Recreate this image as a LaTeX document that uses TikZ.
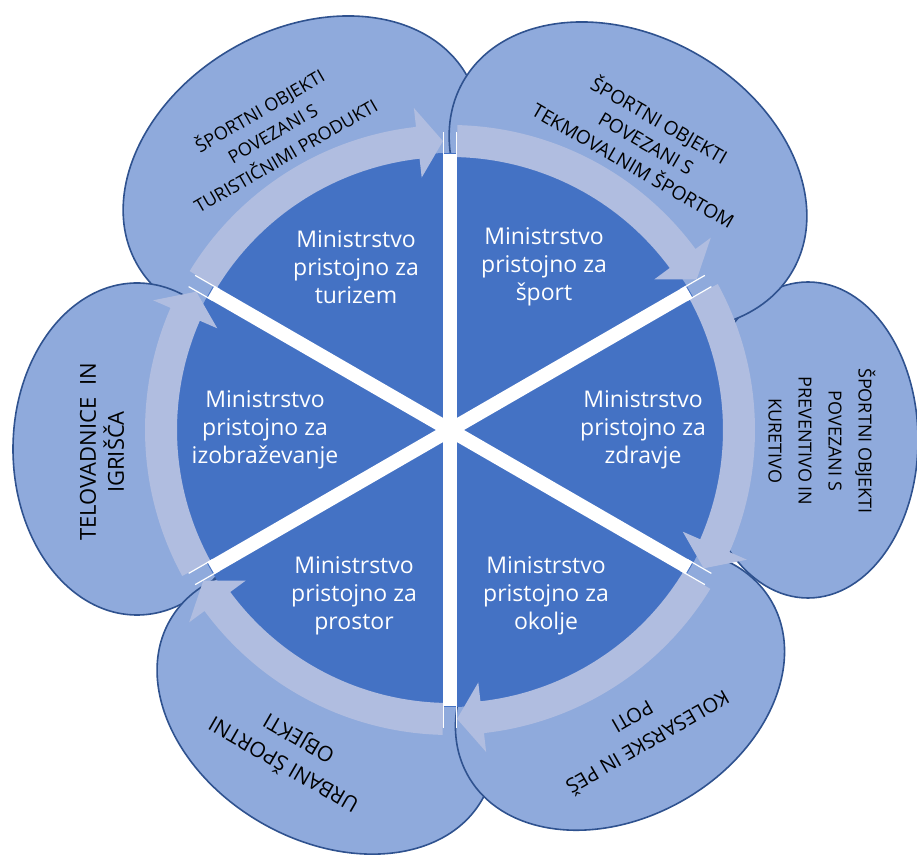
\documentclass[tikz,border=0pt]{standalone}
\usepackage{fontspec}
\setmainfont{Open Sans}
\usetikzlibrary{calc}
\definecolor{sector}{RGB}{68,114,196}
\definecolor{ring}{RGB}{176,189,224}
\definecolor{petal}{RGB}{143,170,220}
\definecolor{rim}{RGB}{47,82,143}

\begin{document}
\begin{tikzpicture}[x=1pt, y=1pt,
    petalshape/.style={fill=petal, draw=rim, line width=1.6pt},
    petaltext/.style={align=center, text=black},
    ministry/.style={align=center, text=white, font=\fontsize{23}{28}\selectfont}]
    \useasboundingbox (0,0) rectangle (917,856);
    \coordinate (c) at (450,426);

    % Petals
    \draw[petalshape, rotate around={30:(302,686)}] (302,686) ellipse[x radius=190, y radius=140];
    \draw[petalshape] (137,407) ellipse[x radius=124, y radius=166];
    \draw[petalshape, rotate around={-30:(326,146)}] (326,146) ellipse[x radius=180, y radius=130];
    \draw[petalshape, rotate around={30:(620,167)}] (620,167) ellipse[x radius=175, y radius=128];
    \draw[petalshape] (808,416) ellipse[x radius=110, y radius=158];
    \draw[petalshape, rotate around={-30:(628,680)}] (628,680) ellipse[x radius=190, y radius=140];

    % Petal labels
    \node[petaltext, rotate=30, font=\fontsize{18}{26}\selectfont] (turproducts) at (272,724)
        {ŠPORTNI OBJEKTI\\POVEZANI S\\TURISTIČNIMI PRODUKTI};
    \node[petaltext, rotate=-30, font=\fontsize{19}{26}\selectfont] (tekmsport) at (647,714)
        {ŠPORTNI OBJEKTI\\POVEZANI S\\TEKMOVALNIM ŠPORTOM};
    \node[petaltext, rotate=-90, font=\fontsize{18}{30}\selectfont] (preventivo) at (822,415)
        {ŠPORTNI OBJEKTI\\POVEZANI S\\PREVENTIVO IN\\KURETIVO};
    \node[petaltext, rotate=210, font=\fontsize{20}{30}\selectfont] (poti) at (641,125)
        {KOLESARSKE IN PEŠ\\POTI};
    \node[petaltext, rotate=150, font=\fontsize{21}{30}\selectfont] (urbani) at (291,104)
        {URBANI ŠPORTNI\\OBJEKTI};
    \node[petaltext, rotate=90, font=\fontsize{22}{28}\selectfont] (igrisca) at (102,404)
        {TELOVADNICE~~IN\\IGRIŠČA};

    % Central disc
    \fill[sector] (c) circle[radius=277];

    % Ring of arrows, clockwise
    \foreach \s in {150,90,30,-30,-90,-150}{
        \pgfmathsetmacro\tail{\s-1.4}
        \pgfmathsetmacro\tip{\s-60+1.4}
        \pgfmathsetmacro\base{\tip+5}
        \fill[ring, shift={(c)}] (\tail:305) arc[start angle=\tail, end angle=\base, radius=305]
            -- (\base:324) -- (\tip:289) -- (\base:254) -- (\base:273)
            arc[start angle=\base, end angle=\tail, radius=273] -- cycle;
    }

    % Spokes
    \foreach \a in {90,30,-30}
        \draw[white, line width=14pt] ($(c)+(\a:276)$) -- ($(c)+(\a+180:276)$);
    \begin{scope}[shift={(c)}]
        \foreach \a in {90,30,-30,-90,-150,150}{
            \draw[white, line width=1.2pt] ($(\a:270)+(\a+90:6.5)$) -- ($(\a:298)+(\a+90:6.5)$);
            \draw[white, line width=1.2pt] ($(\a:270)+(\a-90:6.5)$) -- ($(\a:298)+(\a-90:6.5)$);
        }
    \end{scope}

    % Ministries
    \node[ministry] (turizem) at ($(c)+(120:188)$) {Ministrstvo\\pristojno za\\turizem};
    \node[ministry] (sport) at ($(c)+(60:188)$) {Ministrstvo\\pristojno za\\šport};
    \node[ministry] (zdravje) at ($(c)+(0:193)$) {Ministrstvo\\pristojno za\\zdravje};
    \node[ministry] (okolje) at ($(c)+(-60:192)$) {Ministrstvo\\pristojno za\\okolje};
    \node[ministry] (prostor) at ($(c)+(-120:192)$) {Ministrstvo\\pristojno za\\prostor};
    \node[ministry] (izobrazevanje) at ($(c)+(180:185)$) {Ministrstvo\\pristojno za\\izobraževanje};
\end{tikzpicture}
\end{document}
